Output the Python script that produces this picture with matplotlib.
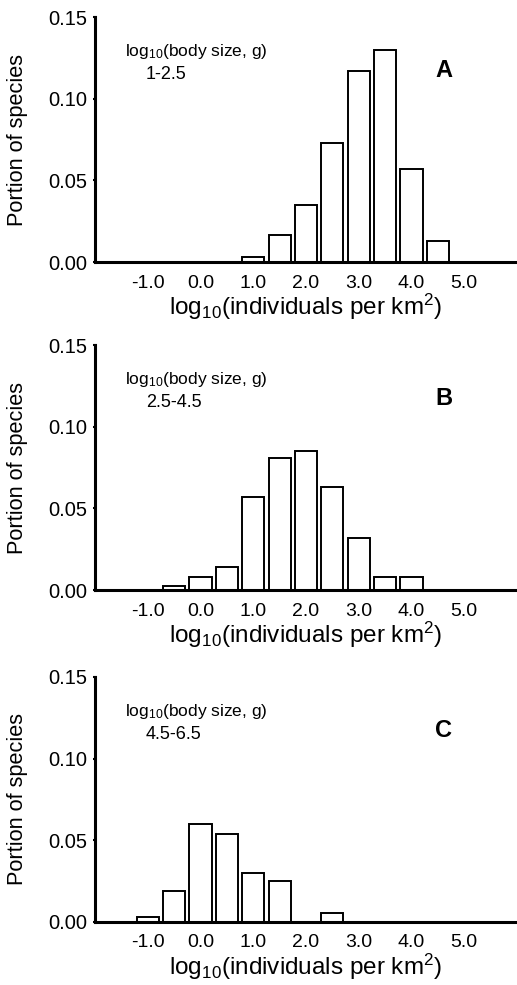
import matplotlib
matplotlib.use("Agg")
import matplotlib.pyplot as plt

plt.rcParams["font.family"] = ["Liberation Sans", "DejaVu Sans"]
plt.rcParams["mathtext.default"] = "regular"

# bin centres (log10 individuals per km2) and portion of species per panel
x_a = [1.0, 1.5, 2.0, 2.5, 3.0, 3.5, 4.0, 4.5]
y_a = [0.003, 0.0165, 0.035, 0.073, 0.117, 0.130, 0.057, 0.013]
x_b = [-0.5, 0.0, 0.5, 1.0, 1.5, 2.0, 2.5, 3.0, 3.5, 4.0]
y_b = [0.0027, 0.0078, 0.014, 0.057, 0.081, 0.085, 0.063, 0.032, 0.0078, 0.0078]
x_c = [-1.0, -0.5, 0.0, 0.5, 1.0, 1.5, 2.5]
y_c = [0.003, 0.019, 0.060, 0.054, 0.030, 0.025, 0.0055]

panels = [("A", "1-2.5", x_a, y_a), ("B", "2.5-4.5", x_b, y_b), ("C", "4.5-6.5", x_c, y_c)]
xticks = [-1.0, 0.0, 1.0, 2.0, 3.0, 4.0, 5.0]
yticks = [0.00, 0.05, 0.10, 0.15]

fig = plt.figure(figsize=(5.17, 9.85), dpi=100)
bottoms = [0.734, 0.401, 0.064]
for (lab, rng, xs, ys), b in zip(panels, bottoms):
    ax = fig.add_axes([0.1838, b, 0.8162, 0.2487])
    ax.bar(xs, ys, width=0.42, color="white", edgecolor="black", linewidth=1.4)
    ax.set_xlim(-2.0, 6.0); ax.set_ylim(0, 0.15)
    for s in ["top", "right"]:
        ax.spines[s].set_visible(False)
    for s in ["left", "bottom"]:
        ax.spines[s].set_linewidth(2.2)
    ax.set_xticks(xticks)
    ax.set_xticklabels([f"{t:.1f}" for t in xticks], fontsize=14)
    ax.set_yticks(yticks)
    ax.set_yticklabels([f"{t:.2f}" for t in yticks], fontsize=14.5)
    ax.tick_params(axis="x", length=0, pad=9)
    ax.tick_params(axis="y", length=3, width=1.5, direction="inout", pad=4)
    ax.set_xlabel("log$_{10}$(individuals per km$^2$)", fontsize=17.5, labelpad=0)
    ax.set_ylabel("Portion of species", fontsize=15.7)
    ax.yaxis.set_label_coords(-0.16, 0.5)
    ax.text(0.07, 0.86, "log$_{10}$(body size, g)", transform=ax.transAxes, fontsize=12.5, va="center")
    ax.text(0.12, 0.765, rng, transform=ax.transAxes, fontsize=13, va="center")
    ax.text(0.826, 0.78, lab, transform=ax.transAxes, fontsize=17, fontweight="bold", va="center", ha="center")

fig.savefig("out.png", dpi=100)
